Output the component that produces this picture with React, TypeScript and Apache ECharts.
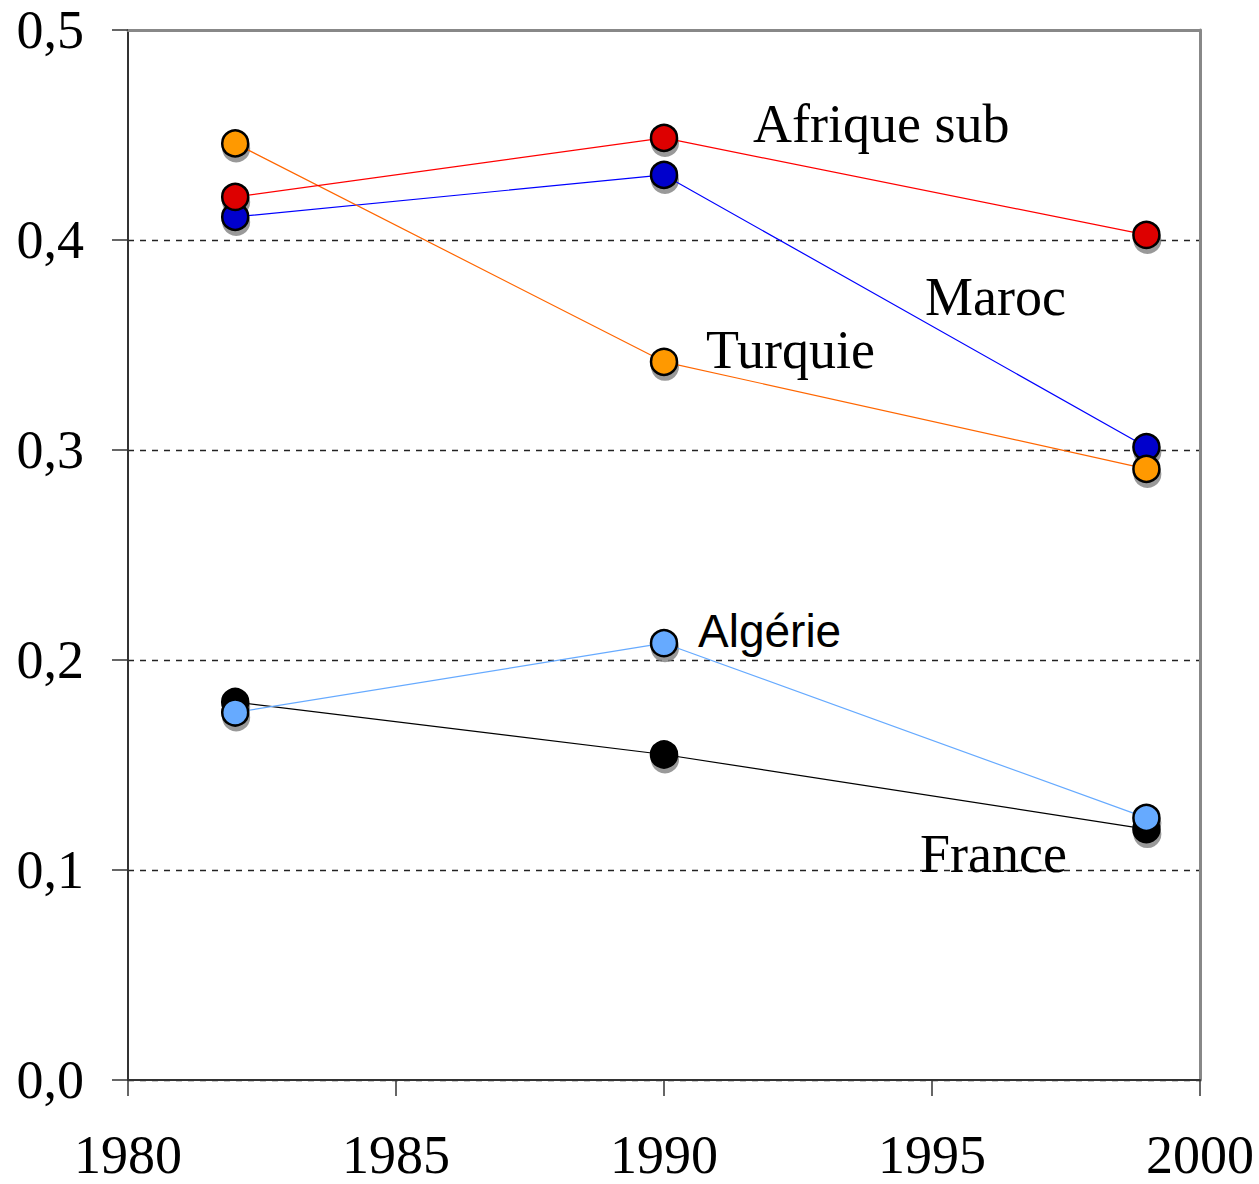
import React, { useEffect, useRef } from "react";
import * as echarts from "echarts";

const years = [1982, 1990, 1999];
const seriesNames = ["France", "Algérie", "Maroc", "Turquie", "Afrique sub"];
const franceValues = [0.18, 0.155, 0.1195];
const algerieValues = [0.175, 0.208, 0.1248];
const marocValues = [0.411, 0.431, 0.3014];
const turquieValues = [0.446, 0.342, 0.291];
const afriqueValues = [0.4205, 0.4486, 0.4024];
const xTicks = [1980, 1985, 1990, 1995, 2000];
const yTicks = [0, 0.1, 0.2, 0.3, 0.4, 0.5];

const allValues = [franceValues, algerieValues, marocValues, turquieValues, afriqueValues];
const lineColors = ["#000000", "#66AAFF", "#0000FF", "#FF6600", "#FF0000"];
const fillColors = ["#000000", "#66AAFF", "#0000CC", "#FF9900", "#DD0000"];

const SERIF = '"Liberation Serif", "Times New Roman", serif';
const SANS = '"Liberation Sans", Arial, sans-serif';

export default function App() {
  const ref = useRef<HTMLDivElement>(null);
  useEffect(() => {
    document.body.style.margin = "0";
    if (!ref.current) return;
    const chart = echarts.init(ref.current, null, { renderer: "svg" });
    const pts = (vals: number[]) => years.map((y, i) => [y, vals[i]]);

    const shadowSeries = allValues.map((vals, i) => ({
      name: seriesNames[i] + " ombre",
      type: "scatter",
      data: pts(vals),
      symbol: "circle",
      symbolSize: 28,
      symbolOffset: [1, 5],
      itemStyle: { color: "#808080" },
      z: 2,
      silent: true,
    }));

    const lineSeries = allValues.map((vals, i) => ({
      name: seriesNames[i],
      type: "line",
      data: pts(vals),
      symbol: "circle",
      symbolSize: 26,
      showAllSymbol: true,
      lineStyle: { color: lineColors[i], width: 1.2 },
      itemStyle: { color: fillColors[i], borderColor: "#000", borderWidth: 2.5 },
      z: 3,
    }));

    chart.setOption({
      animation: false,
      backgroundColor: "#fff",
      grid: { left: 128, right: 59, top: 30, bottom: 104, containLabel: false, outerBoundsMode: "none" },
      xAxis: [
        {
          type: "value",
          min: xTicks[0],
          max: xTicks[xTicks.length - 1],
          interval: 5,
          axisLine: { show: true, onZero: false, lineStyle: { color: "#333", width: 2 } },
          axisTick: { show: true, length: 16, lineStyle: { color: "#333", width: 1.5 } },
          axisLabel: {
            fontFamily: SERIF,
            fontSize: 54,
            color: "#000",
            margin: 48,
            formatter: (v: number) => String(v),
          },
          splitLine: { show: false },
        },
        {
          type: "value",
          position: "top",
          min: xTicks[0],
          max: xTicks[xTicks.length - 1],
          axisLine: { show: true, onZero: false, lineStyle: { color: "#888", width: 3 } },
          axisTick: { show: false },
          axisLabel: { show: false },
          splitLine: { show: false },
        },
      ],
      yAxis: [
        {
          type: "value",
          min: yTicks[0],
          max: yTicks[yTicks.length - 1],
          interval: 0.1,
          axisLine: { show: true, onZero: false, lineStyle: { color: "#333", width: 2 } },
          axisTick: { show: true, length: 16, lineStyle: { color: "#333", width: 1.5 } },
          axisLabel: {
            fontFamily: SERIF,
            fontSize: 54,
            color: "#000",
            margin: 44,
            formatter: (v: number) => v.toFixed(1).replace(".", ","),
          },
          splitLine: {
            show: true,
            lineStyle: { color: "#222", width: 1.3, type: [6, 6] },
          },
        },
        {
          type: "value",
          position: "right",
          min: yTicks[0],
          max: yTicks[yTicks.length - 1],
          axisLine: { show: true, onZero: false, lineStyle: { color: "#888", width: 3 } },
          axisTick: { show: false },
          axisLabel: { show: false },
          splitLine: { show: false },
        },
      ],
      series: [...shadowSeries, ...lineSeries],
      graphic: [
        { type: "text", x: 753, y: 124, z: 10, style: { text: "Afrique sub", font: `54px ${SERIF}`, fill: "#000", verticalAlign: "middle" } },
        { type: "text", x: 925, y: 297, z: 10, style: { text: "Maroc", font: `54px ${SERIF}`, fill: "#000", verticalAlign: "middle" } },
        { type: "text", x: 706, y: 350, z: 10, style: { text: "Turquie", font: `54px ${SERIF}`, fill: "#000", verticalAlign: "middle" } },
        { type: "text", x: 698, y: 631, z: 10, style: { text: "Algérie", font: `46px ${SANS}`, fill: "#000", verticalAlign: "middle" } },
        { type: "text", x: 920, y: 854, z: 10, style: { text: "France", font: `54px ${SERIF}`, fill: "#000", verticalAlign: "middle" } },
      ],
    });
    return () => chart.dispose();
  }, []);
  return <div ref={ref} style={{ width: 1259, height: 1184 }} />;
}
